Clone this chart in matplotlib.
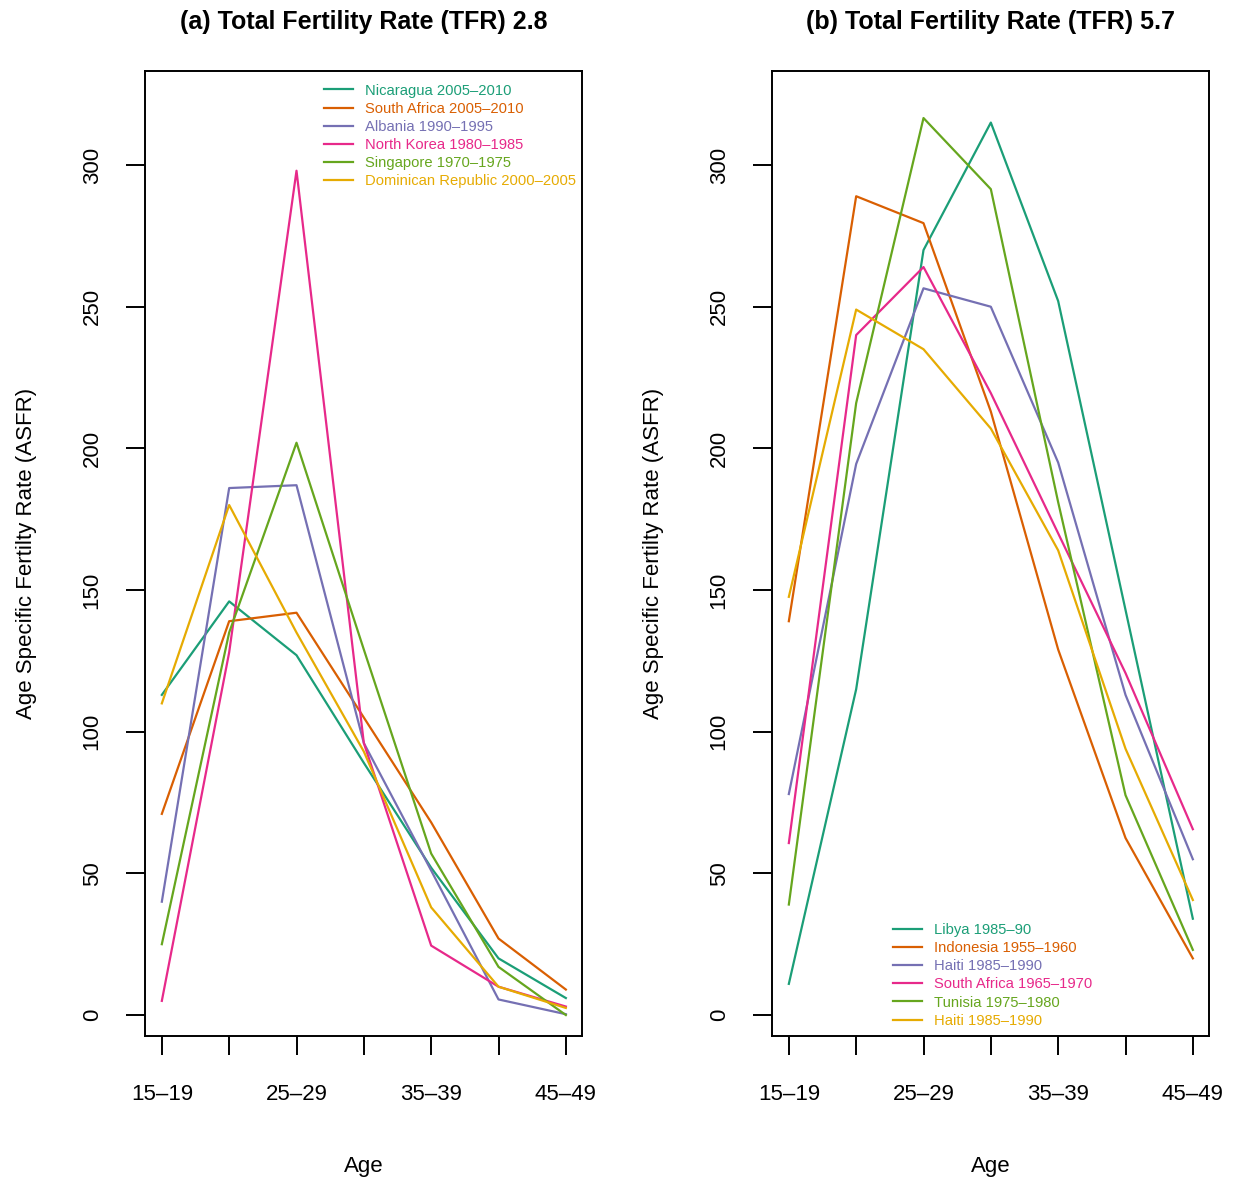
import matplotlib
matplotlib.use("Agg")
import matplotlib.pyplot as plt
import numpy as np

plt.rcParams['font.family'] = ['Liberation Sans', 'DejaVu Sans']

ages = ['15–19', '20–24', '25–29', '30–34', '35–39', '40–44', '45–49']
age_ticklabels = ['15–19', '', '25–29', '', '35–39', '', '45–49']

# Dark2 palette (R RColorBrewer)
dark2 = ['#1B9E77', '#D95F02', '#7570B3', '#E7298A', '#66A61E', '#E6AB02']

# panel (a), TFR 2.8
labels_a = ['Nicaragua 2005–2010', 'South Africa 2005–2010', 'Albania 1990–1995',
            'North Korea 1980–1985', 'Singapore 1970–1975', 'Dominican Republic 2000–2005']
nicaragua = [113, 146, 127, 89, 52, 20, 6]
south_africa_05 = [71, 139, 142, 105, 68, 27, 9]
albania = [40, 186, 187, 96, 51, 5.5, 0.3]
north_korea = [5, 128, 298, 96, 24.5, 10, 3]
singapore = [25, 135, 202, 129, 57, 17, 0]
dominican = [110, 180, 135, 93, 38, 10, 2.5]

# panel (b), TFR 5.7
labels_b = ['Libya 1985–90', 'Indonesia 1955–1960', 'Haiti 1985–1990',
            'South Africa 1965–1970', 'Tunisia 1975–1980', 'Haiti 1985–1990']
libya = [11, 115, 270, 315, 252, 143, 34]
indonesia = [139, 289, 279.5, 213, 129, 62.5, 20]
haiti_a = [78, 194.5, 256.5, 250, 195, 113, 55]
south_africa_65 = [60.7, 240, 264, 219.5, 170, 120.7, 65.6]
tunisia = [39, 216, 316.6, 291.5, 181, 77.6, 23]
haiti_b = [147.6, 249, 235, 207, 164, 94, 40.6]

series_a = [nicaragua, south_africa_05, albania, north_korea, singapore, dominican]
series_b = [libya, indonesia, haiti_a, south_africa_65, tunisia, haiti_b]


def draw_panel(ax, series, labels, title, legend_anchor):
    x = np.arange(len(ages))
    for vals, lab, col in zip(series, labels, dark2):
        ax.plot(x, vals, color=col, lw=1.6, label=lab)
    ax.set_xlim(-0.25, 6.24)
    ax.set_ylim(-7.4, 333.2)
    ax.set_xticks(x)
    ax.set_xticklabels(age_ticklabels)
    ax.set_yticks(np.arange(0, 301, 50))
    ax.tick_params(axis='both', direction='out', length=13.5, width=1.4,
                   labelsize=16, color='black')
    ax.tick_params(axis='x', pad=21)
    ax.tick_params(axis='y', pad=17, labelrotation=90)
    for t in ax.get_yticklabels():
        t.set_va('center')
    for sp in ax.spines.values():
        sp.set_linewidth(1.4)
    ax.set_title(title, fontsize=18, fontweight='bold', pad=30)
    ax.set_xlabel('Age', fontsize=16, labelpad=37)
    ax.set_ylabel('Age Specific Fertilty Rate (ASFR)', fontsize=16, labelpad=32)
    ax.legend(loc='upper left', bbox_to_anchor=legend_anchor, frameon=False,
              fontsize=10.6, labelcolor='linecolor', borderpad=0, borderaxespad=0,
              labelspacing=0.28, handlelength=1.95, handletextpad=0.85)


fig = plt.figure(figsize=(12.4, 11.77), dpi=100)
ax1 = fig.add_axes([145 / 1240, 1 - 1036 / 1177, 437 / 1240, 965 / 1177])
ax2 = fig.add_axes([772 / 1240, 1 - 1036 / 1177, 437 / 1240, 965 / 1177])

draw_panel(ax1, series_a, labels_a, '(a) Total Fertility Rate (TFR) 2.8', (0.41, 0.987))
draw_panel(ax2, series_b, labels_b, '(b) Total Fertility Rate (TFR) 5.7', (0.277, 0.117))

fig.savefig('out.png', dpi=100)
